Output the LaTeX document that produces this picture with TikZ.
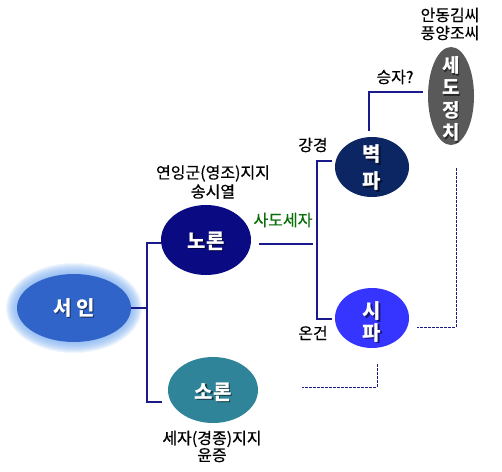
\documentclass[tikz,border=0pt]{standalone}
\usepackage{fontspec}
\setmainfont{Noto Sans CJK KR}
\newfontfamily\lblfont[FakeBold=0.5]{Noto Sans CJK KR}
\usetikzlibrary{calc,shapes.geometric}
\definecolor{seoinc}{HTML}{3164C8}
\definecolor{glowc}{HTML}{7FB0F0}
\definecolor{noronc}{HTML}{0A0A82}
\definecolor{byeokc}{HTML}{0C2563}
\definecolor{sic}{HTML}{3535FF}
\definecolor{soronc}{HTML}{2F8499}
\definecolor{sedoc}{HTML}{595959}
\definecolor{linec}{HTML}{1A1A8C}
\definecolor{greenc}{HTML}{0A6E0A}
\tikzset{
  blob/.style={ellipse, inner sep=0pt, draw=none},
  conn/.style={draw=linec, line width=1.1pt},
  dashconn/.style={draw=linec, line width=0.8pt, dash pattern=on 2.5pt off 1.5pt},
  lbl/.style={font=\lblfont\fontsize{16}{18}\selectfont, text=black, align=center, inner sep=0pt},
  wtxt/.style={font=\bfseries\fontsize{20}{21}\selectfont, text=white, align=center, inner sep=0pt},
  stxt/.style={font=\bfseries\fontsize{20}{21}\selectfont, text=black, opacity=0.55, align=center, inner sep=0pt},
}
\begin{document}
\begin{tikzpicture}[x=1pt,y=-1pt]
\useasboundingbox (0,0) rectangle (502,471);
% glow
\foreach \i in {0,...,11} {
  \fill[glowc, opacity=0.12] (74,308) ellipse ({68-\i} and {45-\i});
}
% ellipses
\node[blob, fill=seoinc, minimum width=114pt, minimum height=68pt] (seoin) at (74,308) {};
\node[blob, fill=noronc, minimum width=90pt, minimum height=70pt] (noron) at (206,240) {};
\node[blob, fill=soronc, minimum width=90pt, minimum height=66pt] (soron) at (213,390) {};
\node[blob, fill=byeokc, minimum width=74pt, minimum height=60pt] (byeok) at (372,167) {};
\node[blob, fill=sic, minimum width=74pt, minimum height=60pt] (si) at (372,318) {};
\node[blob, fill=sedoc, minimum width=46pt, minimum height=98pt] (sedo) at (451,96) {};
% texts with shadows
\node[stxt] (seoinS) at (75.5,309.5) {서 인};
\node[wtxt] (seoinT) at (74,308) {서 인};
\node[stxt] (noronS) at (207.5,242.5) {노론};
\node[wtxt] (noronT) at (206,241) {노론};
\node[stxt] (soronS) at (214.5,393.5) {소론};
\node[wtxt] (soronT) at (213,392) {소론};
\node[stxt, font=\bfseries\fontsize{20}{27}\selectfont] (byeokS) at (373.5,169.5) {벽\\파};
\node[wtxt, font=\bfseries\fontsize{20}{27}\selectfont] (byeokT) at (372,168) {벽\\파};
\node[stxt, font=\bfseries\fontsize{20}{21.5}\selectfont] (siS) at (373.5,323.5) {시\\파};
\node[wtxt, font=\bfseries\fontsize{20}{21.5}\selectfont] (siT) at (372,322) {시\\파};
\node[stxt, font=\bfseries\fontsize{19}{22.3}\selectfont] (sedoS) at (452.5,100.5) {세\\도\\정\\치};
\node[wtxt, font=\bfseries\fontsize{19}{22.3}\selectfont] (sedoT) at (451,99) {세\\도\\정\\치};
% labels
\node[lbl, font=\lblfont\fontsize{16}{19}\selectfont] (lnoron) at (213,182) {연잉군(영조)지지\\송시열};
\node[lbl, text=greenc] (lsado) at (283,220) {사도세자};
\node[lbl] (lgang) at (313,145) {강경};
\node[lbl] (lon) at (313,333) {온건};
\node[lbl] (lwin) at (395,77) {승자?};
\node[lbl] (lfam) at (450,24) {안동김씨\\풍양조씨};
\node[lbl, font=\lblfont\fontsize{16}{17}\selectfont] (lsoron) at (212,446.5) {세자(경종)지지\\윤증};
% connectors left
\coordinate (tT) at (147,243);
\coordinate (tB) at (147,402);
\draw[conn] (seoin.east) -- (seoin.east -| tT);
\draw[conn] (noron.west |- tT) -- (tT) -- (tB) -- ($(soron.west |- tB)+(-6,0)$);
% connectors right
\coordinate (mE) at (313,244);
\coordinate (rT) at (317,161);
\coordinate (rB) at (317,319);
\draw[conn] ($(noron.east |- mE)+(8,0)$) -- (mE);
\draw[conn] ($(byeok.west |- rT)+(-3,0)$) -- (rT) -- (rB) -- ($(si.west |- rB)+(-3,0)$);
\coordinate (sw) at (423,92);
\draw[conn] ($(byeok.north)+(-3,-6)$) |- (sw);
% dashed
\draw[dashconn] ($(sedo.south)+(5,23)$) |- ($(si.east)+(8,9)$);
\draw[dashconn] ($(si.south)+(5,16)$) |- ($(soron.east)+(44,-3)$);
\end{tikzpicture}
\end{document}
